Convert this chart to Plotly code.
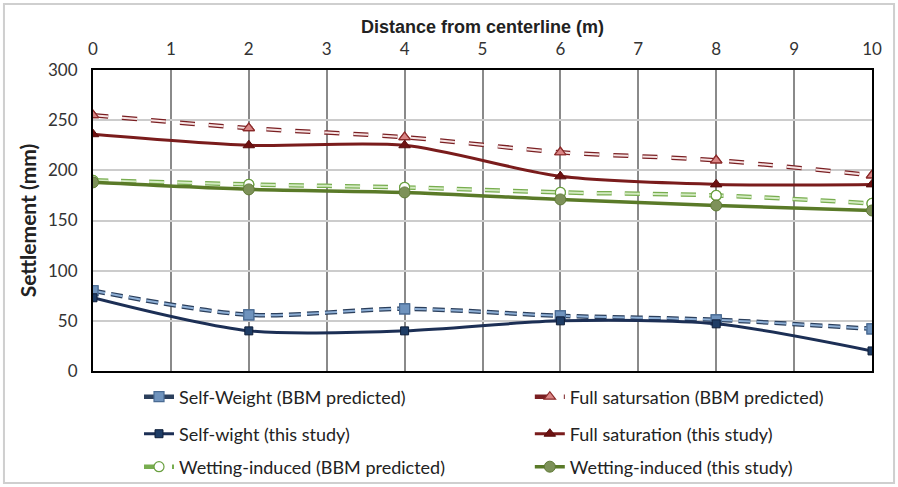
import plotly.graph_objects as go

distance = [0, 2, 4, 6, 8, 10]
sw_bbm = [80, 56, 62, 55, 51, 42]
sw_study = [73, 40, 40, 50, 47, 20]
fs_bbm = [255, 242, 233, 218, 210, 195]
fs_study = [236, 225, 225, 194, 186, 186]
wi_bbm = [190, 186, 183, 178, 175, 167]
wi_study = [188, 181, 178, 171, 165, 160]

x_ticks = list(range(0, 11))
y_ticks = [0, 50, 100, 150, 200, 250, 300]

FONT = "Lato"
fig = go.Figure()

def dashed_series(y, name, outer, inner, dash, msym, mfill, mline, msize, legend):
    fig.add_trace(go.Scatter(x=distance, y=y, name=name, mode="lines+markers",
                             line=dict(color=outer, width=4.5, dash=dash, shape="spline", smoothing=0.8),
                             marker=dict(symbol=msym, color=mfill, size=msize, line=dict(color=mline, width=1.2)),
                             legend=legend))
    fig.add_trace(go.Scatter(x=distance, y=y, showlegend=False, mode="lines", hoverinfo="skip",
                             line=dict(color=inner, width=2, dash=dash, shape="spline", smoothing=0.8)))
    fig.add_trace(go.Scatter(x=distance, y=y, showlegend=False, mode="markers", hoverinfo="skip",
                             marker=dict(symbol=msym, color=mfill, size=msize, line=dict(color=mline, width=1.2))))

def solid_series(y, name, color, width, msym, mfill, mline, msize, legend):
    fig.add_trace(go.Scatter(x=distance, y=y, name=name, mode="lines+markers",
                             line=dict(color=color, width=width, shape="spline", smoothing=0.8),
                             marker=dict(symbol=msym, color=mfill, size=msize, line=dict(color=mline, width=1)),
                             legend=legend))

dashed_series(sw_bbm, "Self-Weight (BBM predicted)", "#2b3f5c", "#8fb0d6", "12px,6px",
              "square", "#6f93bd", "#4a6b93", 10, "legend")
dashed_series(fs_bbm, "Full satursation (BBM predicted)", "#7a1f22", "#f6e4e4", "15px,14px",
              "triangle-up", "#d98585", "#8b2a2a", 10, "legend2")
solid_series(sw_study, "Self-wight (this study)", "#1c2f55", 3, "square", "#1f3d66", "#0f1f3a", 8, "legend3")
solid_series(fs_study, "Full saturation (this study)", "#7a1c1c", 3, "triangle-up", "#6e1212", "#5a0d0d", 10, "legend4")
dashed_series(wi_bbm, "Wetting-induced (BBM predicted)", "#78ad4f", "#d4ebc3", "15px,13px",
              "circle", "#ffffff", "#6aa040", 10, "legend5")
solid_series(wi_study, "Wetting-induced (this study)", "#5a7a28", 3.5, "circle", "#7d9159", "#5f7a35", 11, "legend6")

leg_font = dict(size=18, family=FONT, color="#222222")
col_x = [0.1548, 0.590]
row_y = [0.1848, 0.1088, 0.0411]
legends = {}
for i in range(6):
    key = "legend" if i == 0 else f"legend{i+1}"
    legends[key] = dict(orientation="h", xref="container", yref="container",
                        x=col_x[i % 2], y=row_y[i // 2], xanchor="left", yanchor="middle",
                        font=leg_font, bgcolor="rgba(0,0,0,0)")

fig.update_layout(
    width=898, height=487,
    margin=dict(l=93, r=26, t=70, b=116, autoexpand=False),
    paper_bgcolor="white", plot_bgcolor="white",
    font=dict(family=FONT, size=17, color="#333333"),
    xaxis=dict(side="top", range=[0, 10], tickvals=x_ticks, ticks="", ticklabelstandoff=6,
               showgrid=True, gridcolor="#8a8a8a", gridwidth=1.5,
               showline=True, linecolor="black", linewidth=2, mirror=True,
               zeroline=False, tickfont=dict(size=17, family=FONT, color="#333333"),
               title=dict(text="<b>Distance from centerline (m)</b>",
                          font=dict(size=18, family="Liberation Sans", color="#222222"), standoff=0)),
    yaxis=dict(range=[0, 300], tickvals=y_ticks, ticks="", ticklabelstandoff=10,
               showgrid=True, gridcolor="#cccccc", gridwidth=2,
               showline=True, linecolor="black", linewidth=2, mirror=True,
               zeroline=False, tickfont=dict(size=17, family=FONT, color="#333333"),
               title=dict(text="<b>Settlement (mm)</b>", font=dict(size=21, family=FONT, color="#222222"),
                          standoff=6)),
    showlegend=True,
    **legends,
)

fig.add_shape(type="rect", xref="paper", yref="paper",
              x0=-0.1143, x1=1.0283, y0=-0.3721, y1=1.2193,
              line=dict(color="#cfcfcf", width=2), fillcolor="rgba(0,0,0,0)", layer="below")

fig.write_html("out.html")
